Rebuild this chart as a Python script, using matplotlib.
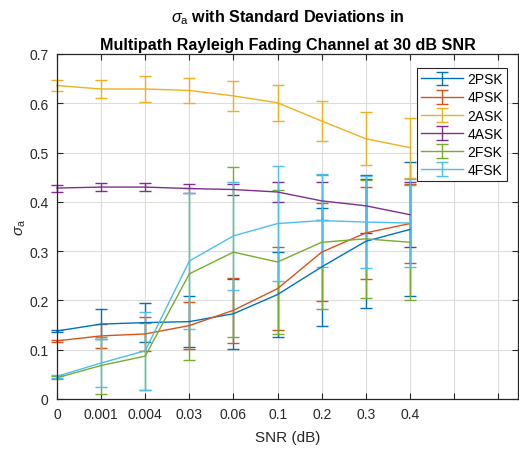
import matplotlib
matplotlib.use("Agg")
import matplotlib.pyplot as plt
import numpy as np

plt.rcParams['font.family'] = ['Liberation Sans', 'DejaVu Sans']
plt.rcParams['mathtext.fontset'] = 'custom'
plt.rcParams['mathtext.rm'] = 'Liberation Sans'
plt.rcParams['mathtext.it'] = 'Liberation Sans:italic'
plt.rcParams['mathtext.bf'] = 'Liberation Sans:bold'

snr_labels = ['0', '0.001', '0.004', '0.03', '0.06', '0.1', '0.2', '0.3', '0.4']

psk2_mean = [0.138, 0.152, 0.155, 0.157, 0.173, 0.212, 0.268, 0.320, 0.344]
psk2_std = [0.002, 0.031, 0.040, 0.051, 0.071, 0.087, 0.119, 0.135, 0.136]
psk4_mean = [0.118, 0.128, 0.132, 0.149, 0.180, 0.224, 0.298, 0.337, 0.356]
psk4_std = [0.002, 0.024, 0.035, 0.048, 0.066, 0.085, 0.100, 0.093, 0.080]
ask2_mean = [0.636, 0.629, 0.629, 0.626, 0.615, 0.601, 0.564, 0.528, 0.510]
ask2_std = [0.011, 0.019, 0.027, 0.026, 0.031, 0.036, 0.041, 0.054, 0.061]
ask4_mean = [0.428, 0.430, 0.430, 0.427, 0.425, 0.420, 0.402, 0.392, 0.374]
ask4_std = [0.007, 0.008, 0.0075, 0.009, 0.012, 0.020, 0.039, 0.055, 0.066]
fsk2_mean = [0.043, 0.068, 0.087, 0.254, 0.298, 0.278, 0.318, 0.325, 0.318]
fsk2_std = [0.003, 0.057, 0.068, 0.174, 0.172, 0.146, 0.136, 0.120, 0.117]
fsk4_mean = [0.046, 0.073, 0.098, 0.280, 0.331, 0.356, 0.362, 0.359, 0.357]
fsk4_std = [0.003, 0.048, 0.079, 0.138, 0.110, 0.116, 0.094, 0.093, 0.090]

series = [
    ('2PSK', psk2_mean, psk2_std, '#0072BD'),
    ('4PSK', psk4_mean, psk4_std, '#D95319'),
    ('2ASK', ask2_mean, ask2_std, '#EDB120'),
    ('4ASK', ask4_mean, ask4_std, '#7E2F8E'),
    ('2FSK', fsk2_mean, fsk2_std, '#77AC30'),
    ('4FSK', fsk4_mean, fsk4_std, '#4DBEEE'),
]

fig = plt.figure(figsize=(5.19, 4.52), dpi=100)
ax = fig.add_axes([57 / 519, 52 / 452, 461 / 519, 345 / 452])

x = np.arange(len(snr_labels))
for name, m, s, c in series:
    cont = ax.errorbar(x, m, yerr=s, color=c, lw=1.0, elinewidth=1.0,
                       capsize=4.5, capthick=1.0, label=name)
    for art in cont.get_children():
        art.set_clip_on(False)

axc = '#262626'
ax.set_xlim(0, 10.45)
ax.set_ylim(0, 0.7)
ax.set_xticks(np.arange(0, 11))
ax.set_xticklabels(snr_labels + ['', ''])
ax.set_yticks(np.arange(0, 0.71, 0.1))
ax.set_yticklabels(['0', '0.1', '0.2', '0.3', '0.4', '0.5', '0.6', '0.7'])
ax.grid(True, color='#dcdcdc', lw=0.8)
ax.set_axisbelow(True)
ax.tick_params(direction='in', top=True, right=True, length=4, width=0.8,
               colors=axc, labelsize=10, pad=6)
for sp in ax.spines.values():
    sp.set_color(axc)
    sp.set_linewidth(0.9)

ax.set_xlabel('SNR (dB)', fontsize=11, color=axc, labelpad=6)
ax.set_ylabel(r'$\sigma_{\rm a}$', fontsize=11, color=axc, labelpad=1)
ax.set_title(r'$\sigma_{\rm a}$ with Standard Deviations in' + '\n'
             'Multipath Rayleigh Fading Channel at 30 dB SNR',
             fontsize=11.6, fontweight='bold', color='black', pad=3.5,
             linespacing=1.9)

leg = ax.legend(loc='upper right', bbox_to_anchor=(0.976, 0.959),
                borderaxespad=0, fontsize=10, handlelength=3,
                labelspacing=0.3, fancybox=False, framealpha=1,
                edgecolor=axc, borderpad=0.3, handletextpad=0.3)
leg.get_frame().set_linewidth(0.8)

fig.savefig('out.png', dpi=100)
